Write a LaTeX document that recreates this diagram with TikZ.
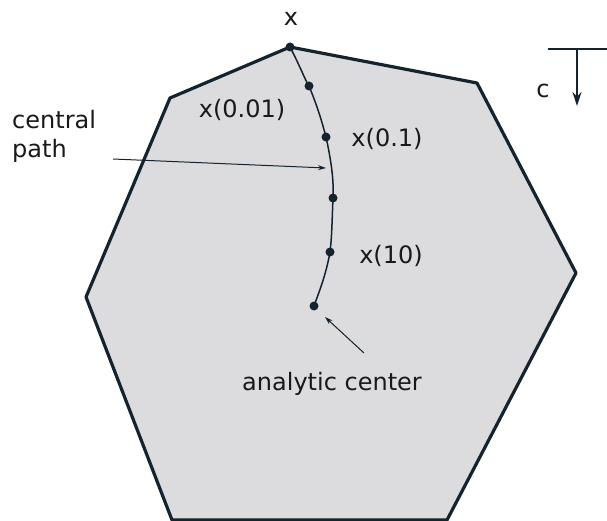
\documentclass[tikz,border=0pt]{standalone}
\usepackage{fontspec}
\setmainfont{DejaVu Sans}
\usetikzlibrary{arrows.meta}
\definecolor{edge}{RGB}{20,35,45}
\definecolor{fillg}{RGB}{220,220,222}
\tikzset{
  lbl/.style={font=\fontsize{24}{27}\selectfont, text=black!90, inner sep=0pt},
  pt/.style={circle, fill=edge, inner sep=0pt, minimum size=9pt},
  pointer/.style={draw=edge, line width=1pt, -{Stealth[length=8pt,width=5pt]}},
}
\begin{document}
\begin{tikzpicture}[x=1pt,y=-1pt]
\useasboundingbox (0,0) rectangle (607,521);
\fill[fillg] (290,47) -- (477,83) -- (576,273) -- (447,520) -- (172,520) -- (86,297) -- (170,98) -- cycle;
\draw[edge, line width=3.2pt, line join=round] (290,47) -- (477,83) -- (576,273) -- (447,520) -- (172,520) -- (86,297) -- (170,98) -- cycle;
\draw[edge, line width=1.5pt] (290,47) .. controls (300,66) and (305,80) .. (309,86)
  .. controls (318,108) and (322,122) .. (326,137)
  .. controls (331,160) and (334,180) .. (333,198)
  .. controls (332,220) and (332,236) .. (330,252)
  .. controls (326,275) and (319,292) .. (314,306);
\node[pt] (p0) at (290,47) {};
\node[pt] (p1) at (309,86) {};
\node[pt] (p2) at (326,137) {};
\node[pt] (p3) at (333,198) {};
\node[pt] (p4) at (330,252) {};
\node[pt] (p5) at (314,306) {};
\node[lbl] (lx) at (291,19) {x};
\node[lbl] (l1) at (242,110) {x(0.01)};
\node[lbl] (l2) at (387,139) {x(0.1)};
\node[lbl] (l3) at (391,256) {x(10)};
\node[lbl, align=left, anchor=west] (lcp) at (12,136) {central\\[2pt]path};
\node[lbl] (lac) at (332,384) {analytic center};
\coordinate (cpstart) at (113,159);
\coordinate (cpend) at (326,168);
\draw[pointer] (cpstart) -- (cpend);
\coordinate (acstart) at (364,353);
\coordinate (acend) at (325,317);
\draw[pointer] (acstart) -- (acend);
\coordinate (ca) at (548,49);
\coordinate (cb) at (607,49);
\coordinate (cm) at (577,49);
\coordinate (ce) at (577,106);
\draw[edge, line width=1.6pt] (ca) -- (cb);
\draw[edge, line width=1.6pt, -{Stealth[length=14pt,width=9pt]}] (cm) -- (ce);
\node[lbl] (lc) at (543,91) {c};
\end{tikzpicture}
\end{document}
